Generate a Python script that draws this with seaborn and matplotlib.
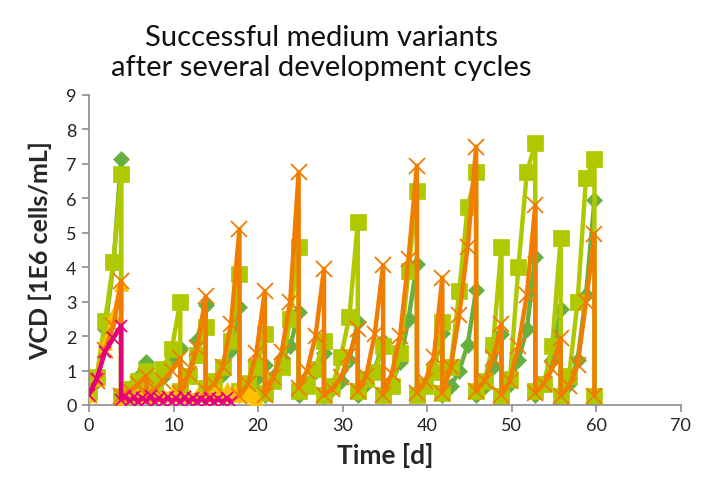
import matplotlib
matplotlib.use("Agg")
import matplotlib.pyplot as plt
import pandas as pd
import seaborn as sns

# passage time points (days) shared by the three long-running variants
t_cycle = [0, 0.9, 1.9, 2.9, 3.8,
           3.8, 4.8, 5.8, 6.8,
           6.8, 7.8, 8.8, 9.8, 10.8,
           10.8, 11.8, 12.8, 13.8,
           13.8, 14.8, 15.8, 16.8, 17.8,
           17.8, 18.8, 19.8, 20.8,
           20.8, 21.8, 22.8, 23.8, 24.8,
           24.8, 25.8, 26.8, 27.8,
           27.8, 28.8, 29.8, 30.8, 31.8,
           31.8, 32.8, 33.8, 34.8,
           34.8, 35.8, 36.8, 37.8, 38.8,
           38.8, 39.8, 40.8, 41.8,
           41.8, 42.8, 43.8, 44.8, 45.8,
           45.8, 46.8, 47.8, 48.8,
           48.8, 49.8, 50.8, 51.8, 52.8,
           52.8, 53.8, 54.8, 55.8,
           55.8, 56.8, 57.8, 58.8, 59.8,
           59.8]

v_green = [0.3, 0.7, 2.2, 4.1, 7.15,
           0.25, 0.5, 0.8, 1.25,
           0.25, 0.45, 0.8, 1.3, 1.65,
           0.3, 0.9, 1.9, 2.9,
           0.3, 0.5, 0.9, 1.6, 2.85,
           0.3, 0.5, 0.75, 1.15,
           0.3, 0.8, 1.35, 1.7, 2.7,
           0.3, 0.6, 1.0, 1.5,
           0.25, 0.45, 0.7, 1.3, 2.4,
           0.3, 0.6, 1.0, 1.85,
           0.3, 0.6, 1.25, 2.5, 4.1,
           0.3, 0.55, 1.0, 2.1,
           0.3, 0.55, 1.0, 1.75, 3.35,
           0.3, 0.55, 1.1, 2.05,
           0.3, 0.6, 1.3, 2.2, 4.3,
           0.3, 0.6, 1.3, 2.8,
           0.3, 0.6, 1.3, 3.2, 5.95]

v_lime = [0.37, 0.8, 2.45, 4.15, 6.7,
          0.27, 0.45, 0.7, 1.0,
          0.3, 0.56, 1.05, 1.63, 3.0,
          0.4, 0.85, 1.45, 2.25,
          0.5, 0.7, 1.1, 1.85, 3.8,
          0.4, 0.65, 1.1, 2.05,
          0.35, 0.7, 1.1, 2.5, 4.6,
          0.4, 0.55, 1.05, 1.85,
          0.3, 0.55, 1.4, 2.55, 5.3,
          0.4, 0.75, 0.95, 1.7,
          0.3, 0.56, 1.5, 3.9, 6.2,
          0.3, 0.56, 0.95, 2.4,
          0.35, 1.1, 3.3, 5.75, 6.75,
          0.4, 0.7, 1.75, 4.6,
          0.27, 0.75, 4.0, 6.75, 7.6,
          0.4, 0.6, 1.7, 4.85,
          0.27, 0.85, 3.0, 6.6, 7.15,
          0.27]

v_orange = [0.3, 0.7, 1.6, 2.3, 3.6,
            0.25, 0.4, 0.6, 0.85,
            0.3, 0.45, 0.7, 1.0, 1.35,
            0.35, 0.9, 1.65, 3.15,
            0.4, 0.6, 1.1, 2.35, 5.1,
            0.25, 0.6, 1.5, 3.3,
            0.3, 0.8, 1.55, 3.0, 6.75,
            0.5, 1.0, 2.0, 3.95,
            0.3, 0.45, 0.8, 1.45, 2.2,
            0.4, 0.85, 2.05, 4.05,
            0.3, 0.9, 2.0, 4.25, 6.95,
            0.35, 0.7, 1.4, 3.7,
            0.35, 1.1, 2.6, 4.6, 7.5,
            0.4, 0.7, 1.35, 2.35,
            0.3, 0.7, 1.7, 3.2, 5.8,
            0.35, 0.6, 1.05, 1.95,
            0.27, 0.55, 1.15, 3.0, 4.95,
            0.27]

t_yellow = [0, 0.9, 1.9, 2.9, 3.8, 3.8, 4.8, 5.8, 6.8, 7.8, 8.8, 9.8, 10.8,
            11.8, 12.8, 13.8, 14.8, 15.3, 15.8, 16.3, 16.8, 17.3, 17.8,
            18.3, 18.8, 19.3, 19.8]
v_yellow = [0.3, 0.75, 1.8, 2.6, 3.5, 0.2, 0.25, 0.3, 0.25, 0.3, 0.3, 0.35, 0.3,
            0.25, 0.3, 0.3, 0.35, 0.4, 0.3, 0.45, 0.3, 0.4, 0.35,
            0.3, 0.4, 0.3, 0.2]

t_magenta = [0, 0.9, 1.9, 2.9, 3.8, 3.8, 4.3, 4.8, 5.3, 5.8, 6.3, 6.8, 7.3,
             7.8, 8.3, 8.8, 9.3, 9.8, 10.3, 10.8, 11.3, 11.8, 12.3, 12.8,
             13.3, 13.8, 14.3, 14.8, 15.3, 15.8, 16.3, 16.8]
v_magenta = [0.3, 0.75, 1.55, 1.95, 2.3, 0.15, 0.25, 0.12, 0.22, 0.1, 0.2, 0.12, 0.25,
             0.1, 0.2, 0.08, 0.22, 0.1, 0.2, 0.08, 0.22, 0.1, 0.2, 0.08,
             0.18, 0.1, 0.2, 0.08, 0.18, 0.08, 0.2, 0.1]

sns.set_style("white")
plt.rcParams['font.family'] = ['Lato', 'DejaVu Sans']

fig = plt.figure(figsize=(7.04, 4.81), dpi=100)
ax = fig.add_axes([0.1264, 0.156, 0.8405, 0.6445])

series = [
    (t_cycle[:len(v_green)], v_green, "#67B040", "D", 8, 1),
    (t_cycle, v_lime, "#AFC800", "s", 11, 2),
    (t_yellow, v_yellow, "#FFC000", "^", 10, 3),
    (t_cycle, v_orange, "#F07D00", "x", 11, 4),
    (t_magenta, v_magenta, "#E4007C", "x", 8, 5),
]
for t, v, col, mk, ms, z in series:
    df = pd.DataFrame({"t": t, "v": v})
    sns.lineplot(data=df, x="t", y="v", ax=ax, estimator=None, sort=False,
                 color=col, linewidth=3.2, marker=mk, markersize=ms,
                 markeredgecolor=col, markeredgewidth=1.3 if mk == "x" else 0.5,
                 zorder=z)

ax.set_xlim(0, 70)
ax.set_ylim(0, 9)
ax.set_xticks(range(0, 71, 10))
ax.set_yticks(range(0, 10))
for s in ["top", "right"]:
    ax.spines[s].set_visible(False)
for s in ["left", "bottom"]:
    ax.spines[s].set_color("#8c8c8c")
    ax.spines[s].set_linewidth(1.2)
ax.tick_params(axis="both", direction="out", length=5, width=1.2, color="#8c8c8c",
               labelsize=13, labelcolor="#222222", pad=4, left=True, bottom=True)

ax.set_xlabel("Time [d]", fontsize=19, fontweight="bold", labelpad=6)
ax.set_ylabel("VCD [1E6 cells/mL]", fontsize=18, fontweight="bold", labelpad=10)
fig.text(0.456, 0.89, "Successful medium variants\nafter several development cycles",
         ha="center", va="center", fontsize=21, linespacing=1.2, color="#111111")

fig.savefig("out.png", dpi=100)
